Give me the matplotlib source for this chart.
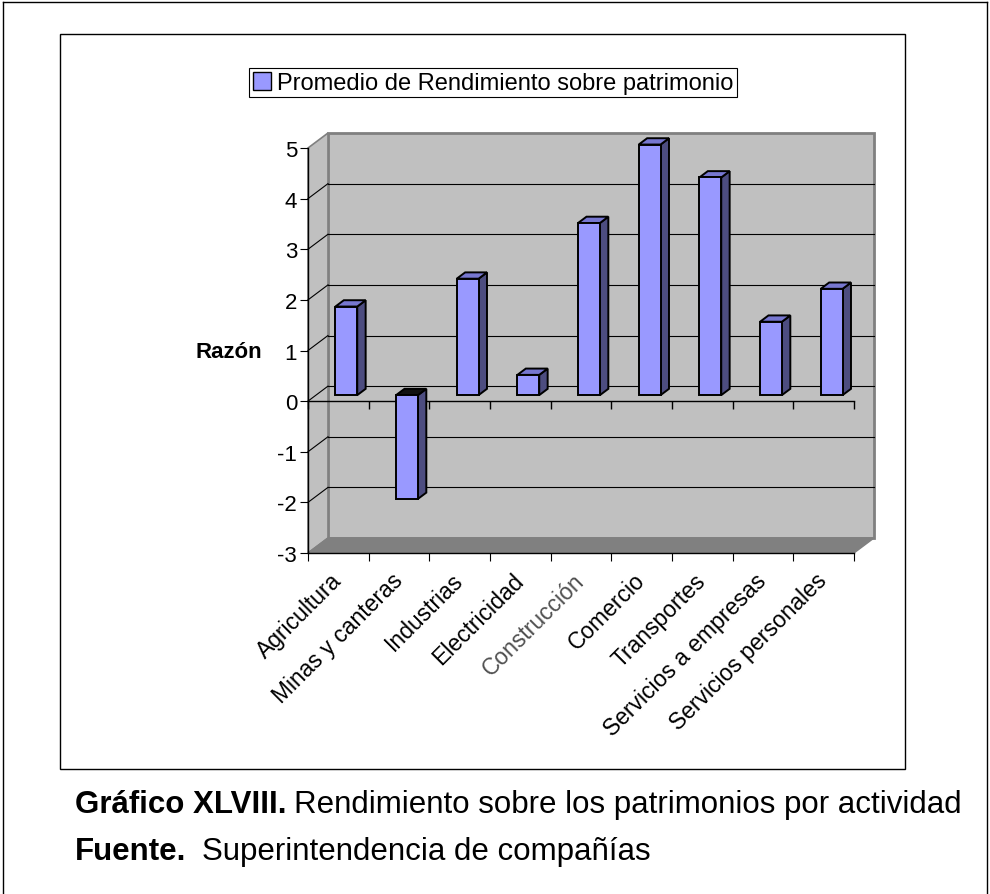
import matplotlib
matplotlib.use('Agg')
from matplotlib import pyplot as plt
from matplotlib.patches import Polygon, Rectangle, Patch
from matplotlib.lines import Line2D
import numpy as np

plt.rcParams['font.family'] = ['Liberation Sans', 'DejaVu Sans']

categorias = ['Agricultura', 'Minas y canteras', 'Industrias', 'Electricidad',
              'Construcción', 'Comercio', 'Transportes',
              'Servicios a empresas', 'Servicios personales']
rendimiento = [1.75, -2.05, 2.3, 0.4, 3.4, 4.95, 4.3, 1.45, 2.1]
y_ticks = [-3, -2, -1, 0, 1, 2, 3, 4, 5]
serie = 'Promedio de Rendimiento sobre patrimonio'

W, H = 990, 895
fig = plt.figure(figsize=(W / 100, H / 100), dpi=100)

# front plane of the 3d box, in pixels
x0px, x1px, ytop, ybot = 308, 854, 149, 554
ax = fig.add_axes([x0px / W, 1 - ybot / H, (x1px - x0px) / W, (ybot - ytop) / H])
n = len(categorias)
ax.set_xlim(0, n)
ax.set_ylim(y_ticks[0], y_ticks[-1])
ax.patch.set_visible(False)

# depth offset of the back wall in data units
DX = 20 / ((x1px - x0px) / n)
DY = 15 / ((ybot - ytop) / (y_ticks[-1] - y_ticks[0]))
ymin, ymax = y_ticks[0], y_ticks[-1]

wall = '#c0c0c0'
edge = '#808080'

def poly(pts, **kw):
    p = Polygon(pts, closed=True, clip_on=False, **kw)
    ax.add_patch(p)
    return p

# back wall, side wall, floor
poly([(DX, ymin + DY), (n + DX, ymin + DY), (n + DX, ymax + DY), (DX, ymax + DY)],
     facecolor=wall, edgecolor=edge, lw=2, zorder=0.5)
poly([(0, ymin), (DX, ymin + DY), (DX, ymax + DY), (0, ymax)],
     facecolor=wall, edgecolor=edge, lw=1.2, zorder=0.6)
poly([(0, ymin), (n, ymin), (n + DX, ymin + DY), (DX, ymin + DY)],
     facecolor='#808080', edgecolor=edge, lw=1, zorder=0.7)

# gridlines on the back wall and the left wall
for v in y_ticks[1:-1]:
    ax.plot([DX, n + DX], [v + DY, v + DY], color='black', lw=0.8, zorder=1, clip_on=False)
    ax.plot([0, DX], [v, v + DY], color='black', lw=0.8, zorder=1, clip_on=False)

# category axis at zero with its ticks
tick_len = 8 / ((ybot - ytop) / (ymax - ymin))
ax.plot([0, n], [0, 0], color='black', lw=1, zorder=1.2, clip_on=False)
ax.vlines(np.arange(n + 1), 0, -tick_len, color='black', lw=1, zorder=1.2, clip_on=False)

# 3d columns
front, top_c, side = '#9999ff', '#7777d0', '#4d4d80'
f0, f1 = 0.4, 0.82
half = 0.18
for i, v in enumerate(rendimiento):
    xa, xb = i + 0.5 - half, i + 0.5 + half
    lo, hi = min(0, v), max(0, v)
    kw = dict(edgecolor='black', lw=1.4, zorder=3, joinstyle='miter')
    poly([(xb + f0 * DX, lo + f0 * DY), (xb + f1 * DX, lo + f1 * DY),
          (xb + f1 * DX, hi + f1 * DY), (xb + f0 * DX, hi + f0 * DY)],
         facecolor=side, **kw)
    poly([(xa + f0 * DX, hi + f0 * DY), (xb + f0 * DX, hi + f0 * DY),
          (xb + f1 * DX, hi + f1 * DY), (xa + f1 * DX, hi + f1 * DY)],
         facecolor=top_c if v > 0 else '#111111', **kw)
    poly([(xa + f0 * DX, lo + f0 * DY), (xb + f0 * DX, lo + f0 * DY),
          (xb + f0 * DX, hi + f0 * DY), (xa + f0 * DX, hi + f0 * DY)],
         facecolor=front, **kw)

# axes, ticks and labels
for s in ['top', 'right']:
    ax.spines[s].set_visible(False)
for s in ['left', 'bottom']:
    ax.spines[s].set_color('black')
    ax.spines[s].set_linewidth(1)
    ax.spines[s].set_zorder(4)

ax.set_yticks(y_ticks)
ax.set_yticklabels([str(t) for t in y_ticks])
ax.tick_params(axis='y', direction='out', length=5.8, width=0.8, pad=2, labelsize=16)
ax.set_xticks(np.arange(n + 1))
ax.set_xticklabels([])
ax.tick_params(axis='x', which='major', direction='out', length=5.8, width=0.8)
ax.set_xticks(np.arange(n) + 0.5, minor=True)
ax.set_xticklabels(categorias, minor=True, rotation=45, ha='right',
                   rotation_mode='anchor', fontsize=16.5)
ax.tick_params(axis='x', which='minor', length=0, pad=17)
for lab in ax.get_xticklabels(minor=True):
    lab.set_va('center')
    if lab.get_text() == 'Construcción':
        lab.set_color('#505050')

fig.text(262 / W, 1 - 352 / H, 'Razón', weight='bold', fontsize=16,
         ha='right', va='center')

# legend
leg = fig.legend(handles=[Patch(facecolor=front, edgecolor='black', lw=1)],
                 labels=[serie], loc='upper left',
                 bbox_to_anchor=(249 / W, 1 - 69 / H), bbox_transform=fig.transFigure,
                 fancybox=False, edgecolor='black', framealpha=1, fontsize=17,
                 borderpad=0.15, borderaxespad=0, handlelength=0.8,
                 handleheight=0.8, handletextpad=0.25)
leg.get_frame().set_linewidth(0.8)

# chart area frame and page border
fig.add_artist(Rectangle((60 / W, 1 - 770 / H), 845 / W, 735 / H,
                         transform=fig.transFigure, fill=False,
                         edgecolor='black', lw=1))
for xs, ys in [([3, 3], [3, H]), ([3, 987], [3, 3]), ([987, 987], [3, H])]:
    fig.add_artist(Line2D([x / W for x in xs], [1 - y / H for y in ys],
                          transform=fig.transFigure, color='black', lw=1))

# caption
r = fig.canvas.get_renderer()
def caption(y, bold, rest, gap):
    t = fig.text(75 / W, 1 - y / H, bold, weight='bold', fontsize=22.5, va='center')
    bb = t.get_window_extent(r)
    fig.text((bb.x1 + gap) / W, 1 - y / H, rest, fontsize=22.5, va='center')

caption(805, 'Gráfico XLVIII.', 'Rendimiento sobre los patrimonios por actividad', 7)
caption(852, 'Fuente.', 'Superintendencia de compañías', 16)

fig.savefig('out.png', dpi=100)
